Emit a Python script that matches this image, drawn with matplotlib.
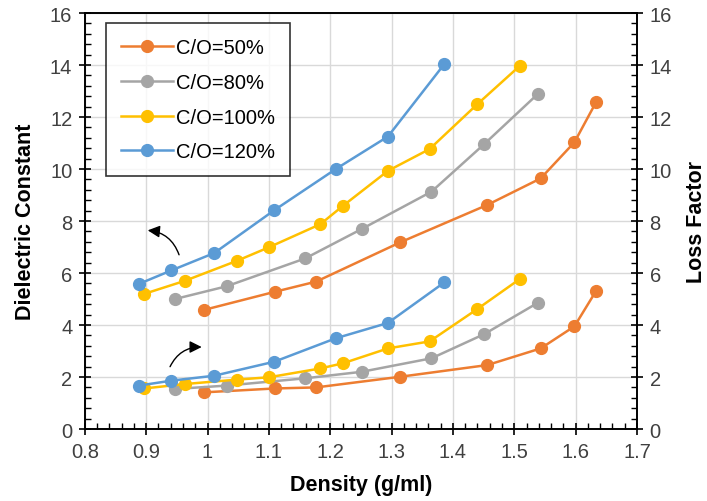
import matplotlib.pyplot as plt
from matplotlib.ticker import MultipleLocator

plt.rcParams['font.family'] = ['Liberation Sans', 'DejaVu Sans']

# density (g/ml) for each C/O ratio
dens_50 = [0.994, 1.110, 1.177, 1.314, 1.456, 1.543, 1.598, 1.633]
dens_80 = [0.947, 1.031, 1.159, 1.251, 1.365, 1.451, 1.538]
dens_100 = [0.897, 0.963, 1.048, 1.100, 1.184, 1.221, 1.294, 1.362, 1.440, 1.509]
dens_120 = [0.888, 0.941, 1.011, 1.109, 1.209, 1.294, 1.386]

# dielectric constant
eps_50 = [4.58, 5.28, 5.67, 7.18, 8.62, 9.64, 11.03, 12.56]
eps_80 = [5.00, 5.49, 6.56, 7.69, 9.13, 10.96, 12.88]
eps_100 = [5.20, 5.70, 6.47, 6.99, 7.88, 8.59, 9.93, 10.77, 12.50, 13.97]
eps_120 = [5.58, 6.10, 6.77, 8.42, 10.00, 11.25, 14.04]

# loss factor
loss_50 = [1.41, 1.56, 1.60, 2.01, 2.46, 3.10, 3.95, 5.30]
loss_80 = [1.54, 1.67, 1.95, 2.20, 2.72, 3.65, 4.85]
loss_100 = [1.56, 1.73, 1.90, 1.99, 2.33, 2.53, 3.10, 3.37, 4.62, 5.77]
loss_120 = [1.67, 1.86, 2.05, 2.59, 3.49, 4.08, 5.64]

labels = ['C/O=50%', 'C/O=80%', 'C/O=100%', 'C/O=120%']
colors = ['#ED7D31', '#A5A5A5', '#FFC000', '#5B9BD5']

fig = plt.figure(figsize=(7.07, 5.02), dpi=100)
ax = fig.add_axes([0.120, 0.1434, 0.781, 0.8286])
ax2 = ax.twinx()

series = [(dens_50, eps_50, loss_50), (dens_80, eps_80, loss_80),
          (dens_100, eps_100, loss_100), (dens_120, eps_120, loss_120)]
for (d, e, l), lab, c in zip(series, labels, colors):
    ax.plot(d, e, '-o', color=c, lw=1.8, ms=8.5, label=lab, zorder=3)
    ax.plot(d, l, '-o', color=c, lw=1.8, ms=8.5, zorder=3)

ax.set_xlim(0.8, 1.7)
ax.set_ylim(0, 16)
ax2.set_ylim(0, 16)
ax.xaxis.set_major_locator(MultipleLocator(0.1))
ax.xaxis.set_minor_locator(MultipleLocator(0.02))
for a in (ax, ax2):
    a.yaxis.set_major_locator(MultipleLocator(2))
    a.yaxis.set_minor_locator(MultipleLocator(0.4))
ax.set_xticks([0.8 + 0.1 * i for i in range(10)])
ax.set_xticklabels(['0.8', '0.9', '1', '1.1', '1.2', '1.3', '1.4', '1.5', '1.6', '1.7'])

ax.grid(True, which='major', color='#D9D9D9', lw=1, zorder=0)
ax.set_axisbelow(True)

for a in (ax, ax2):
    a.tick_params(which='major', direction='inout', length=8, width=1.2,
                  labelsize=14.5, labelcolor='#404040', color='black', pad=5)
    a.tick_params(which='minor', direction='in', length=4, width=1, color='black')
    for s in a.spines.values():
        s.set_color('black')
        s.set_linewidth(1.2)

ax.set_xlabel('Density (g/ml)', fontsize=15.5, fontweight='bold', labelpad=10)
ax.set_ylabel('Dielectric Constant', fontsize=15.5, fontweight='bold', labelpad=10)
ax2.set_ylabel('Loss Factor', fontsize=15.5, fontweight='bold', labelpad=10)

leg = ax.legend(loc='upper left', bbox_to_anchor=(0.038, 0.976), fontsize=14.5,
                frameon=True, fancybox=False, edgecolor='black',
                borderaxespad=0, borderpad=0.75, labelspacing=0.78,
                handlelength=2.6, handletextpad=0.15)
leg.get_frame().set_linewidth(1.2)

# curved arrows pointing to the axis each group belongs to
ax.annotate('', xy=(0.898, 7.65), xytext=(0.955, 6.6),
            arrowprops=dict(arrowstyle='-|>', color='black', lw=1,
                            mutation_scale=18, connectionstyle='arc3,rad=0.35'))
ax.annotate('', xy=(0.995, 3.15), xytext=(0.937, 2.3),
            arrowprops=dict(arrowstyle='-|>', color='black', lw=1,
                            mutation_scale=18, connectionstyle='arc3,rad=-0.35'))

fig.savefig('out.png', dpi=100)
